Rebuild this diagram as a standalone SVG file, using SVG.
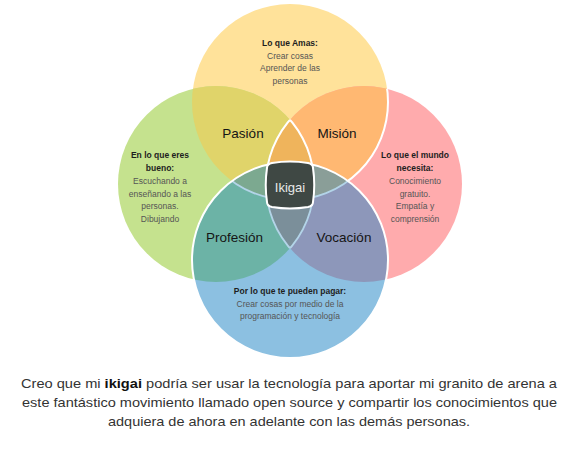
<svg xmlns="http://www.w3.org/2000/svg" width="578" height="450" viewBox="0 0 578 450">
<style>
text{font-family:"Liberation Sans",Arial,sans-serif}
.h{font-size:8.5px;font-weight:bold;fill:#1e1e1e;text-anchor:middle}
.t{font-size:8.5px;fill:#555;text-anchor:middle}
.lbl{font-size:13.5px;fill:#151515;text-anchor:middle}
.p{font-size:13px;fill:#333;text-anchor:middle}
.ws{fill:none;stroke:#fff;stroke-width:2}
.bs{fill:none;stroke:#b3d4e8;stroke-width:1.8}
</style>
<defs>
<clipPath id="cT"><circle cx="290" cy="102" r="98"/></clipPath>
<clipPath id="cL"><circle cx="216" cy="184" r="98"/></clipPath>
<clipPath id="cR"><circle cx="364" cy="184" r="98"/></clipPath>
<clipPath id="cB"><circle cx="290" cy="260" r="98"/></clipPath>
<mask id="mRnB"><rect width="578" height="450" fill="#000"/><circle cx="364" cy="184" r="98" fill="#fff"/><circle cx="290" cy="260" r="98" fill="#000"/></mask>
<mask id="mLnB"><rect width="578" height="450" fill="#000"/><circle cx="216" cy="184" r="98" fill="#fff"/><circle cx="290" cy="260" r="98" fill="#000"/></mask>
</defs>
<rect width="578" height="450" fill="#fff"/>
<g id="circle-top"><circle cx="290" cy="102" r="98" fill="#FFE29A"/></g>
<g id="circle-left"><circle cx="216" cy="184" r="98" fill="#C5E28E"/></g>
<g id="circle-right"><circle cx="364" cy="184" r="98" fill="#FFABAD"/></g>
<g id="circle-bottom"><circle cx="290" cy="260" r="98" fill="#8CC0E1"/></g>
<g id="overlaps">
<circle cx="216" cy="184" r="98" fill="#E0D46A" clip-path="url(#cT)"/>
<circle cx="364" cy="184" r="98" fill="#FFB872" clip-path="url(#cT)"/>
<circle cx="216" cy="184" r="98" fill="#6CB3A6" clip-path="url(#cB)"/>
<circle cx="364" cy="184" r="98" fill="#8D97BA" clip-path="url(#cB)"/>
<g clip-path="url(#cT)"><circle cx="216" cy="184" r="98" fill="#EFB45C" clip-path="url(#cR)"/></g>
<g clip-path="url(#cT)"><circle cx="216" cy="184" r="98" fill="#7CA990" clip-path="url(#cB)"/></g>
<g clip-path="url(#cT)"><circle cx="364" cy="184" r="98" fill="#8A9E98" clip-path="url(#cB)"/></g>
<g clip-path="url(#cB)"><circle cx="216" cy="184" r="98" fill="#7B8F9A" clip-path="url(#cR)"/></g>
</g>
<g id="outlines">
<circle cx="290" cy="102" r="98" class="ws" mask="url(#mRnB)"/>
<circle cx="216" cy="184" r="98" class="ws" mask="url(#mRnB)"/>
<circle cx="364" cy="184" r="98" class="ws" mask="url(#mLnB)"/>
<g clip-path="url(#cB)">
<circle cx="290" cy="102" r="98" class="bs"/>
<circle cx="216" cy="184" r="98" class="bs" clip-path="url(#cR)"/>
<circle cx="364" cy="184" r="98" class="bs" clip-path="url(#cL)"/>
</g>
<circle cx="290" cy="260" r="98" class="ws"/>
</g>
<g id="ikigai">
<path d="M272,163 Q290,160 308,163 Q313,164 313,168 Q315.5,185 313,202 Q313,206 308,207 Q290,210 272,207 Q267,206 267,202 Q264.5,185 267,168 Q267,164 272,163 Z" fill="#3F4844" stroke="#fff" stroke-width="2"/>
<text x="290" y="191.5" class="lbl" style="fill:#e8e8e8;font-size:13px">Ikigai</text>
</g>
<g id="labels">
<text x="243" y="137.5" class="lbl">Pasión</text>
<text x="337" y="137.5" class="lbl">Misión</text>
<text x="234.5" y="241.5" class="lbl">Profesión</text>
<text x="344" y="241.5" class="lbl">Vocación</text>
</g>
<g id="text-top">
<text x="290" y="46" class="h">Lo que Amas:</text>
<text x="290" y="58.5" class="t">Crear cosas</text>
<text x="290" y="71" class="t">Aprender de las</text>
<text x="290" y="83.5" class="t">personas</text>
</g>
<g id="text-left">
<text x="160" y="158" class="h">En lo que eres</text>
<text x="160" y="171" class="h">bueno:</text>
<text x="160" y="184" class="t">Escuchando a</text>
<text x="160" y="196.5" class="t">enseñando a las</text>
<text x="160" y="209" class="t">personas.</text>
<text x="160" y="221.5" class="t">Dibujando</text>
</g>
<g id="text-right">
<text x="415" y="158" class="h">Lo que el mundo</text>
<text x="415" y="171" class="h">necesita:</text>
<text x="415" y="184" class="t">Conocimiento</text>
<text x="415" y="196.5" class="t">gratuito.</text>
<text x="415" y="209" class="t">Empatía y</text>
<text x="415" y="221.5" class="t">comprensión</text>
</g>
<g id="text-bottom">
<text x="290" y="294" class="h">Por lo que te pueden pagar:</text>
<text x="290" y="306.5" class="t">Crear cosas por medio de la</text>
<text x="290" y="319" class="t">programación y tecnología</text>
</g>
<g id="paragraph">
<text x="289" y="388" class="p" textLength="536" lengthAdjust="spacingAndGlyphs">Creo que mi <tspan font-weight="bold" fill="#111">ikigai</tspan> podría ser usar la tecnología para aportar mi granito de arena a</text>
<text x="289.5" y="407" class="p" textLength="535" lengthAdjust="spacingAndGlyphs">este fantástico movimiento llamado open source y compartir los conocimientos que</text>
<text x="289" y="426" class="p" textLength="362" lengthAdjust="spacingAndGlyphs">adquiera de ahora en adelante con las demás personas.</text>
</g>
</svg>
